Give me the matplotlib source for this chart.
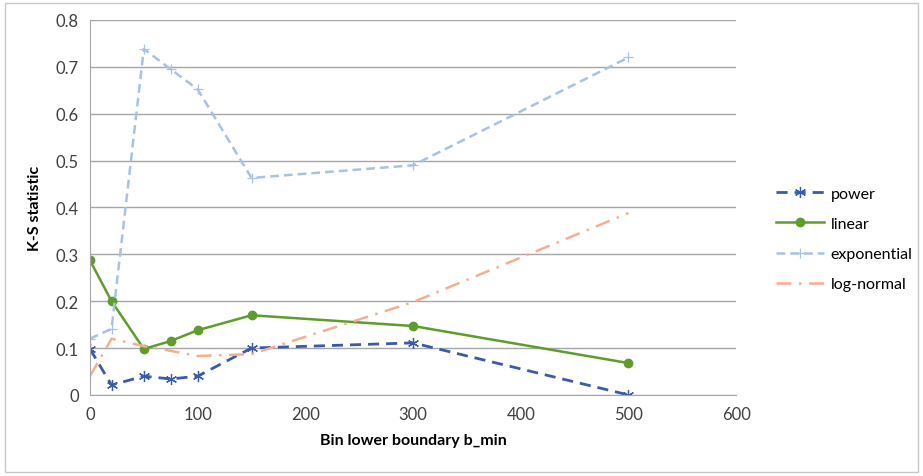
import matplotlib
matplotlib.use('Agg')
import matplotlib.pyplot as plt
from matplotlib.patches import Rectangle

# bin lower boundary b_min
b_min = [0, 20, 50, 75, 100, 150, 300, 500]

# K-S statistic per fitted distribution
ks_power = [0.098, 0.021, 0.040, 0.034, 0.040, 0.100, 0.111, 0.000]
ks_linear = [0.287, 0.200, 0.098, 0.115, 0.138, 0.170, 0.147, 0.068]
ks_exponential = [0.120, 0.141, 0.738, 0.695, 0.652, 0.463, 0.490, 0.720]
ks_lognormal = [0.040, 0.120, 0.104, 0.094, 0.083, 0.087, 0.198, 0.388]

series_labels = ['power', 'linear', 'exponential', 'log-normal']

plt.rcParams.update({
    'font.family': ['Lato', 'DejaVu Sans'],
    'font.size': 11,
})

fig = plt.figure(figsize=(9.23, 4.77), dpi=100)
ax = fig.add_axes([0.0975, 0.170, 0.700, 0.786])

# outer chart border
fig.patches.append(Rectangle((0.005, 0.008), 0.990, 0.984, transform=fig.transFigure,
                             fill=False, edgecolor='#c8c8c8', lw=1.0))

ax.plot(b_min, ks_power, color='#3A5BAA', lw=2.0, ls=(0, (4, 2.5)),
        marker=(6, 2, 0), ms=8, mew=0.9, label=series_labels[0])
ax.plot(b_min, ks_linear, color='#5E9D2C', lw=1.8, ls='-',
        marker='o', ms=6, label=series_labels[1])
ax.plot(b_min, ks_exponential, color='#A8C2E6', lw=1.8, ls=(0, (3.5, 2)),
        marker='+', ms=7, mew=0.9, label=series_labels[2])
ax.plot(b_min, ks_lognormal, color='#F5AE90', lw=1.8, ls=(0, (6, 3, 1, 3)),
        label=series_labels[3])

ax.set_xlim(0, 600)
ax.set_ylim(0, 0.8)
ax.set_xticks(range(0, 601, 100))
ax.set_yticks([0, 0.1, 0.2, 0.3, 0.4, 0.5, 0.6, 0.7, 0.8])
ax.set_yticklabels(['0', '0.1', '0.2', '0.3', '0.4', '0.5', '0.6', '0.7', '0.8'])
ax.tick_params(length=0, pad=8, colors='#404040', labelsize=12)
ax.yaxis.grid(True, color='#a6a6a6', lw=1.0)
ax.set_axisbelow(True)
for s in ['top', 'right']:
    ax.spines[s].set_visible(False)
for s in ['left', 'bottom']:
    ax.spines[s].set_color('#a6a6a6')

ax.set_xlabel('Bin lower boundary b_min', fontweight='bold', fontsize=11.5, labelpad=8)
ax.set_ylabel('K-S statistic', fontweight='bold', fontsize=11.5, labelpad=10)

ax.legend(loc='center left', bbox_to_anchor=(1.04, 0.416), frameon=False,
          fontsize=11.5, handlelength=3.0, labelspacing=1.0, handletextpad=0.4)

fig.savefig('out.png', dpi=100)
plt.close(fig)
